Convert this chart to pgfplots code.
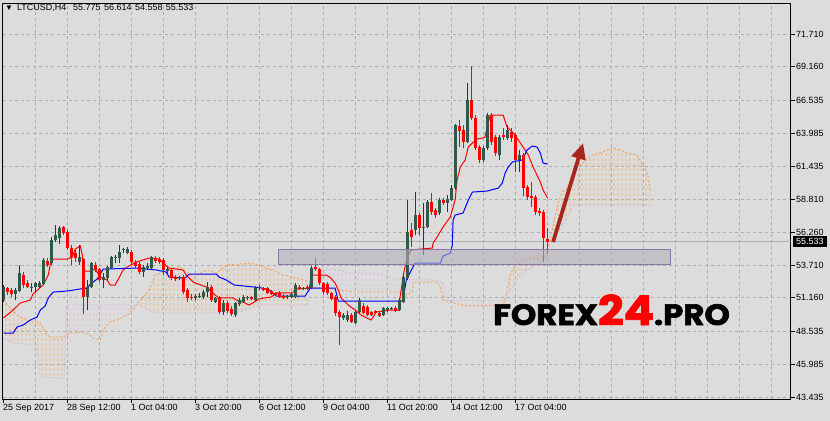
\documentclass[border=0pt]{standalone}
\usepackage{fontspec}
\setmainfont{Liberation Sans}
\newfontfamily\wmfont{Poppins}[BoldFeatures={FakeBold=2}]
\usepackage{pgfplots}
\pgfplotsset{compat=1.18}
\usepackage{pgfplotstable}
\usepgfplotslibrary{fillbetween}
\usetikzlibrary{patterns,arrows.meta}

\definecolor{bgc}{RGB}{220,220,220}
\definecolor{gridc}{RGB}{172,172,172}
\definecolor{bullbody}{RGB}{47,90,72}
\definecolor{bullwick}{RGB}{35,60,50}
\definecolor{bearc}{RGB}{255,0,0}
\definecolor{spanA}{RGB}{244,164,96}
\definecolor{spanB}{RGB}{216,191,216}
\definecolor{tenkan}{RGB}{255,0,0}
\definecolor{kijun}{RGB}{0,0,255}
\definecolor{rectfill}{RGB}{176,176,186}
\definecolor{rectdraw}{RGB}{140,118,165}
\definecolor{arrowc}{RGB}{168,38,28}
\definecolor{bidc}{RGB}{175,175,175}
\pagecolor{bgc}

\pgfdeclarepatternformonly{vdash}{\pgfpointorigin}{\pgfpoint{4bp}{5bp}}{\pgfpoint{4bp}{5bp}}{%
  \pgfsetlinewidth{1bp}%
  \pgfpathmoveto{\pgfpoint{2.5bp}{0bp}}%
  \pgfpathlineto{\pgfpoint{2.5bp}{3bp}}%
  \pgfusepathqstroke}

\pgfplotsset{candle/.style={forget plot, only marks, mark=*, mark size=0pt, mark options={draw=none, fill=none}}}

\pgfplotstableread{
i O H L C
0 50.99 52.16 50.83 52.00
3 51.46 51.92 50.99 51.77
4 51.69 53.72 51.61 53.09
7 51.92 52.31 51.61 52.00
8 52.00 52.39 51.54 52.31
9 52.00 52.47 51.92 52.31
10 52.23 54.26 52.16 54.11
12 53.87 55.90 53.72 55.66
13 55.66 56.83 55.51 56.05
14 55.82 56.75 55.35 56.60
19 53.95 55.27 53.72 54.34
21 51.22 52.55 50.21 52.00
22 52.00 53.95 51.92 53.87
25 52.55 53.09 51.92 52.78
26 52.70 53.64 52.55 53.56
27 53.48 54.42 53.40 54.34
28 54.26 54.50 53.87 54.34
29 54.26 55.27 53.87 54.73
30 54.89 55.04 54.65 54.96
31 54.65 55.12 54.57 54.96
35 53.17 53.72 52.78 53.56
36 53.48 53.87 53.33 53.64
37 53.48 54.42 53.33 54.34
41 53.25 53.56 53.09 53.40
44 52.70 52.86 52.55 52.78
48 51.15 51.46 50.99 51.30
49 51.22 51.54 51.15 51.30
50 51.22 51.77 51.07 51.61
51 51.61 52.39 51.22 52.00
53 50.83 51.22 50.76 51.15
55 50.06 50.99 49.82 50.76
58 49.82 50.83 49.67 50.76
59 50.68 51.15 50.52 50.99
60 50.83 51.38 50.76 51.22
61 51.15 51.30 50.99 51.23
63 50.99 52.08 50.91 51.92
64 51.92 52.16 51.77 52.00
71 51.22 51.38 51.07 51.30
72 51.22 51.54 51.15 51.46
73 51.22 52.31 51.15 52.16
75 51.85 52.00 51.77 51.93
77 51.92 53.64 51.85 53.48
85 49.59 49.98 49.43 49.82
86 49.43 50.13 49.28 49.82
88 49.20 50.21 49.12 50.06
89 50.06 51.15 49.98 50.99
95 49.82 50.45 49.74 50.37
96 50.21 50.45 50.06 50.37
97 50.29 50.45 50.21 50.37
99 50.21 51.15 50.13 50.99
100 50.83 52.94 50.76 52.78
101 52.70 58.78 52.55 56.29
103 56.44 59.40 56.05 57.61
105 56.60 58.55 54.50 56.68
106 56.68 58.78 56.60 58.62
109 57.77 58.94 57.61 58.78
111 58.55 59.17 57.85 58.86
112 58.78 59.95 58.70 59.71
113 59.71 64.70 59.56 64.62
116 63.30 67.89 63.22 66.57
120 61.90 62.99 61.74 62.83
121 62.83 65.56 62.68 65.40
124 62.29 63.84 61.90 63.69
126 63.61 64.62 63.45 64.23
129 61.90 62.68 60.96 62.29
}\bull

\pgfplotstableread{
i O H L C
1 51.92 52.00 51.38 51.61
2 51.77 51.92 51.22 51.46
5 52.94 53.17 51.92 52.16
6 52.31 52.55 51.92 52.00
11 54.03 54.26 53.56 53.72
15 56.68 56.75 56.05 56.21
16 56.29 56.44 54.89 55.04
17 55.04 55.27 53.72 54.34
18 54.65 54.89 53.95 54.26
20 54.18 54.26 49.90 51.22
23 53.72 53.95 53.17 53.33
24 53.40 53.48 52.39 52.55
32 54.73 54.89 53.79 53.95
33 53.95 54.11 53.48 53.64
34 53.79 53.95 53.01 53.17
38 54.26 54.42 53.87 54.03
39 54.18 54.34 53.79 53.95
40 54.11 54.26 52.94 53.33
42 53.33 53.48 52.55 52.70
43 52.78 52.94 52.47 52.62
45 52.78 52.94 51.46 51.61
46 51.77 51.92 50.83 51.15
47 51.22 51.46 50.99 51.15
52 52.00 52.16 50.83 50.99
54 51.22 51.30 49.90 50.06
56 50.76 50.91 49.98 50.13
57 50.29 50.52 49.74 49.90
62 51.22 51.30 50.99 51.07
65 51.92 52.00 51.69 51.77
66 51.92 52.00 51.46 51.54
67 51.69 51.77 51.38 51.46
68 51.54 51.61 51.30 51.38
69 51.54 51.69 51.15 51.22
70 51.30 51.46 51.07 51.15
74 52.00 52.16 51.77 51.85
76 52.00 52.16 51.77 51.85
78 53.56 54.26 53.25 53.40
79 53.40 53.48 52.16 52.31
80 52.31 52.39 51.46 51.61
81 52.23 52.39 51.38 51.54
82 51.54 51.61 50.99 51.07
83 51.22 51.38 49.74 49.98
84 50.06 50.21 47.48 49.67
87 49.82 49.98 49.20 49.28
90 50.52 50.76 49.90 49.98
91 50.45 50.60 49.74 49.82
92 50.06 50.13 49.74 49.82
93 50.13 50.21 49.90 49.98
94 49.98 50.06 49.67 49.74
98 50.37 50.52 50.06 50.13
102 56.44 56.99 55.12 55.90
104 57.61 57.77 56.05 56.60
107 58.62 59.33 57.61 57.85
108 58.00 58.16 57.38 57.61
110 58.78 58.94 58.39 58.55
114 64.54 65.01 62.91 64.15
115 64.23 64.62 62.83 63.30
117 66.57 69.22 65.01 65.17
118 65.17 65.40 62.68 62.83
119 62.91 63.06 61.66 61.90
122 65.40 65.56 63.06 63.30
123 63.69 63.84 62.21 62.44
125 63.84 64.39 63.45 63.69
127 64.08 64.39 63.30 63.61
128 63.84 64.00 60.96 61.90
130 62.29 62.44 59.09 59.71
131 59.79 59.95 58.78 59.01
132 59.09 60.18 58.23 58.94
133 59.01 59.17 57.61 57.85
134 57.92 58.16 57.53 57.77
135 57.85 58.00 53.95 55.82
136 55.775 56.614 54.558 55.533
}\bear

\begin{document}
\begin{tikzpicture}
\begin{axis}[
  at={(2.5bp,-3bp)}, anchor=north west,
  scale only axis, width=788bp, height=396bp,
  xmin=-0.25, xmax=196.75, ymin=43.28, ymax=74.13,
  axis line style={black, line width=0.9bp},
  xtick={0,16,...,128},
  xticklabels={25 Sep 2017, 28 Sep 12:00, 1 Oct 04:00, 3 Oct 20:00, 6 Oct 12:00, 9 Oct 04:00, 11 Oct 20:00, 14 Oct 12:00, 17 Oct 04:00},
  minor xtick={8,16,...,192},
  ytick={43.435,45.985,48.535,51.160,53.710,56.260,58.810,61.435,63.985,66.535,69.160,71.710},
  yticklabels={43.435,45.985,48.535,51.160,53.710,56.260,58.810,61.435,63.985,66.535,69.160,71.710},
  xtick pos=bottom, ytick pos=right, yticklabel pos=right,
  tick align=outside,
  major tick length=4bp, minor tick length=0pt,
  tick style={black, line width=0.8bp},
  xminorgrids=true, ymajorgrids=true, xmajorgrids=false,
  grid style={gridc, dash pattern=on 3bp off 3bp, line width=0.8bp},
  minor grid style={gridc, dash pattern=on 3bp off 3bp, line width=0.8bp},
  major grid style={gridc, dash pattern=on 3bp off 3bp, line width=0.8bp},
  tick label style={font=\fontsize{9}{10}\selectfont, text=black},
  xticklabel style={anchor=north west, inner sep=1bp, xshift=-1.5bp},
  yticklabel style={anchor=west, inner sep=1.5bp},
]
% bid line
\addplot[forget plot, bidc, line width=0.8bp] coordinates {(-0.25,55.533) (196.75,55.533)};

% Senkou span A and B
\addplot[name path=A, forget plot, spanA, dash pattern=on 2bp off 2bp, line width=1bp] coordinates {
(0,50.99) (1.7,50.37) (3.4,49.82) (4.2,49.67) (5.9,49.43) (7.4,49.28) (9.2,49.20) (9.9,48.81) (10.9,48.26) (11.7,48.11) (14.9,48.11) (15.9,48.26) (16.7,48.42) (19.9,48.50) (21.2,48.34) (22.4,48.03) (24.2,47.87) (24.9,48.65) (25.9,49.04) (26.7,49.28) (28.4,49.43) (30.9,49.82) (32.4,50.21) (33.4,50.76) (34.2,50.99) (34.9,51.22) (35.9,51.54) (36.7,52.00) (37.4,52.55) (37.9,52.94) (39.2,53.09) (40.9,53.33) (42.4,53.48) (44.2,53.56) (45.9,53.17) (47.4,52.78) (49.2,53.09) (50.9,53.33) (52.4,53.17) (53.4,53.09) (54.2,53.33) (55.9,53.72) (61.7,53.87) (63.4,53.72) (65.9,53.48) (67.4,53.33) (69.9,52.94) (73.4,52.70) (76.7,52.39) (77.4,52.00) (84.2,51.77) (87.4,51.61) (99.2,51.61) (100.9,51.38) (102.2,51.61) (102.4,52.39) (108.4,52.39) (109.2,52.00) (109.9,50.99) (112.4,50.76) (115.9,50.52) (124.9,50.60) (125.4,50.99) (126.7,52.94) (127.9,53.72) (129.2,53.95) (130.4,54.26) (135.4,54.34) (136.7,55.66) (137.9,57.61) (138.7,58.62) (139.7,59.40) (140.9,59.71) (142.4,60.96) (144.2,61.51) (147.2,62.29) (149.7,62.52) (152.4,62.83) (154.2,62.68) (155.9,62.44) (158.4,62.29) (159.9,61.51) (160.9,60.88) (161.7,59.56)};
\addplot[name path=B, forget plot, spanB, dash pattern=on 2bp off 2bp, line width=1bp] coordinates {
(0,48.03) (2.4,47.64) (7.9,47.48) (8.4,47.09) (9.2,44.99) (15.2,44.91) (15.7,50.60) (33.4,50.60) (35.4,50.45) (36.7,50.06) (39.2,49.98) (49.2,49.98) (59.2,50.06) (64.2,50.60) (76.2,50.60) (76.9,53.48) (79.9,53.48) (84.2,53.33) (86.7,53.09) (94.2,53.09) (97.4,52.70) (106.7,52.55) (109.9,52.39) (110.4,50.99) (124.9,50.91) (126.7,51.77) (129.2,52.94) (131.7,53.48) (134.2,53.95) (135.4,54.20) (136.7,55.40) (137.9,56.05) (139.9,56.83) (142.2,58.23) (142.9,58.39) (161.7,58.39)};
\addplot[forget plot, draw=none, pattern=vdash, pattern color=spanA] fill between[of=A and B, split, every odd segment/.style={pattern color=spanB}];

% Tenkan-sen
\addplot[forget plot, tenkan, line width=1bp] coordinates {
(0,49.59) (2.4,50.21) (4.2,50.76) (6.7,50.99) (7.4,51.46) (9.9,52.16) (11.2,52.94) (11.7,53.79) (12.4,54.18) (15.9,54.18) (17.2,54.34) (17.9,54.96) (19.2,55.20) (19.7,54.50) (19.9,53.25) (21.7,53.25) (22.9,53.40) (24.2,52.78) (25.9,52.55) (26.7,52.16) (27.9,52.16) (28.7,52.62) (29.9,53.33) (30.9,53.56) (33.2,53.95) (36.4,54.26) (38.9,54.18) (39.9,53.87) (41.4,53.48) (44.9,53.33) (45.7,52.94) (47.4,52.39) (50.7,52.00) (52.4,51.54) (53.7,51.15) (57.4,51.15) (58.2,50.99) (59.9,50.83) (61.4,50.60) (62.7,50.83) (63.9,51.07) (65.2,51.15) (66.9,51.22) (68.2,51.54) (72.2,51.54) (73.2,51.85) (76.4,51.92) (77.2,52.94) (80.7,52.94) (81.9,52.70) (82.9,52.31) (83.7,51.77) (84.4,51.15) (86.2,50.60) (87.9,50.21) (89.4,49.82) (90.9,49.59) (91.9,49.43) (92.4,49.67) (93.2,50.06) (96.7,50.21) (98.7,50.21) (99.4,51.77) (100.2,53.33) (100.9,54.26) (101.9,54.89) (107.2,55.04) (107.4,55.43) (108.4,55.90) (109.9,56.68) (111.7,57.46) (112.9,58.78) (113.4,60.34) (114.2,61.35) (115.4,61.90) (116.2,62.91) (117.2,63.22) (118.4,63.53) (119.7,63.61) (120.4,63.69) (120.9,64.47) (121.7,65.40) (124.9,65.40) (125.9,64.47) (127.2,64.08) (127.9,63.84) (128.7,63.45) (129.9,62.91) (131.2,62.29) (132.4,61.35) (134.2,60.18) (134.9,59.56) (136,58.94)};

% Kijun-sen
\addplot[forget plot, kijun, line width=1bp] coordinates {
(0,48.42) (2.4,48.42) (3.4,48.89) (4.9,49.04) (6.7,49.43) (8.4,49.67) (9.2,50.21) (10.4,50.52) (11.2,51.15) (12.4,51.61) (15.9,51.69) (19.2,51.85) (20.9,51.92) (21.7,52.23) (23.4,52.62) (24.2,53.01) (24.9,53.40) (33.2,53.48) (38.2,53.33) (40.7,53.17) (41.4,52.78) (44.9,52.70) (45.7,52.78) (46.4,53.01) (53.2,53.01) (53.9,52.78) (55.7,52.55) (57.7,52.16) (62.7,52.00) (64.7,51.92) (66.4,51.77) (68.2,51.30) (75.4,51.30) (76.7,51.92) (82.9,51.92) (83.7,50.91) (99.7,50.91) (100.2,51.61) (100.7,52.55) (101.7,53.17) (102.9,53.87) (109.2,53.87) (109.9,54.42) (111.7,54.65) (112.2,55.27) (112.4,57.22) (112.9,57.61) (114.9,57.77) (116.2,58.78) (117.2,59.40) (120.9,59.48) (123.7,59.71) (124.7,60.10) (125.4,60.88) (126.2,61.35) (127.2,61.74) (129.7,61.90) (130.9,62.68) (132.2,62.99) (133.4,62.91) (134.2,62.44) (134.9,61.66) (136,61.58)};

% candles: wicks
\addplot[candle, error bars/.cd, y dir=plus, y explicit, error mark=none, error bar style={draw=bullwick, line width=1bp}] table[x=i, y=L, y error expr=\thisrow{H}-\thisrow{L}] {\bull};
\addplot[candle, error bars/.cd, y dir=plus, y explicit, error mark=none, error bar style={draw=bearc, line width=1bp}] table[x=i, y=L, y error expr=\thisrow{H}-\thisrow{L}] {\bear};
% candles: bodies
\addplot[candle, error bars/.cd, y dir=plus, y explicit, error mark=none, error bar style={draw=bullbody, line width=3bp}] table[x=i, y=O, y error expr=\thisrow{C}-\thisrow{O}] {\bull};
\addplot[candle, error bars/.cd, y dir=plus, y explicit, error mark=none, error bar style={draw=bearc, line width=3bp}] table[x=i, y=C, y error expr=\thisrow{O}-\thisrow{C}] {\bear};

% support zone and arrow
\draw[rectdraw, fill=rectfill, fill opacity=0.6, line width=1bp] (axis cs:68.7,54.96) rectangle (axis cs:166.7,53.72);
\draw[arrowc, line width=3.8bp, -{Triangle[length=16bp,width=14bp]}] (axis cs:137.4,55.51) -- (axis cs:144.9,63.22);
\end{axis}

% header text
\node[anchor=west, inner sep=0pt] at (5bp,-8bp) {\fontsize{9}{10}\selectfont{\fontsize{8}{8}\selectfont ▼}\hspace{4bp}LTCUSD,H4\hspace{7bp}55.775\hspace{3.5bp}56.614\hspace{3.5bp}54.558\hspace{3.5bp}55.533};
% current price label
\node[fill=black, text=white, inner xsep=3bp, inner ysep=1.5bp, minimum height=11bp, anchor=west] at (793bp,-241.7bp) {\fontsize{9}{10}\selectfont 55.533};
% watermark
\node[anchor=base west, inner sep=0pt, xscale=1.1, transform shape] at (493bp,-325bp) {\wmfont\bfseries\fontsize{29.5}{30}\selectfont FOREX{\color{red}\fontsize{41}{41}\selectfont 24}.PRO};
\pgfresetboundingbox
\useasboundingbox (0,0) rectangle (830bp,-421bp);
\end{tikzpicture}
\end{document}
